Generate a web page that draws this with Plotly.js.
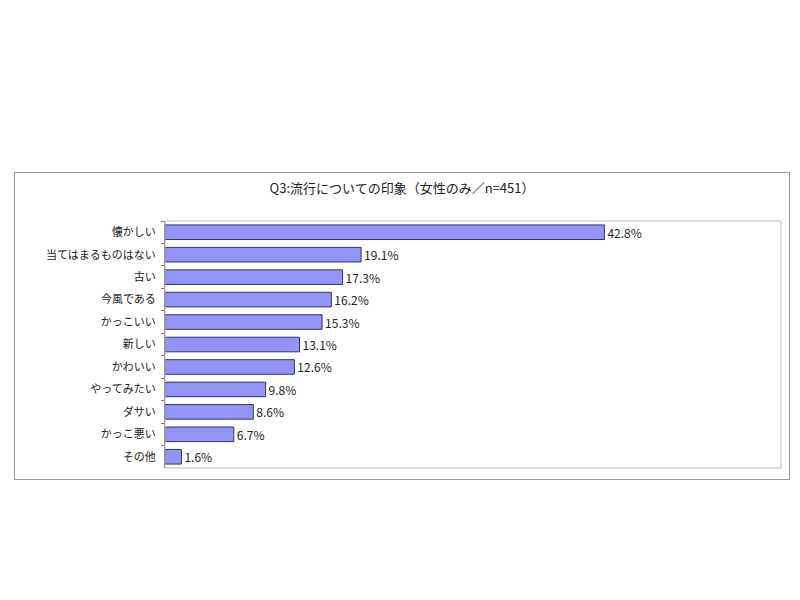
<!DOCTYPE html>
<html>
<head>
<meta charset="utf-8">
<script src="https://cdn.plot.ly/plotly-3.0.1.min.js"></script>
<style>
  body { margin: 0; background: #fff; }
  #chart {
    position: absolute; left: 14px; top: 172px;
    width: 774px; height: 306px;
    border: 1px solid #999;
  }
</style>
</head>
<body>
<div id="chart"></div>
<script>
const categories = ['懐かしい', '当てはまるものはない', '古い', '今風である', 'かっこいい',
  '新しい', 'かわいい', 'やってみたい', 'ダサい', 'かっこ悪い', 'その他'];
const percents = [42.8, 19.1, 17.3, 16.2, 15.3, 13.1, 12.6, 9.8, 8.6, 6.7, 1.6];

const data = [
  {
    x: percents,
    y: categories,
    type: 'bar',
    orientation: 'h',
    texttemplate: '%{x:.1f}%',
    textposition: 'outside',
    constraintext: 'none',
    cliponaxis: false,
    textfont: { size: 12, color: '#222' },
    marker: {
      color: '#9494F6',
      line: { color: '#333366', width: 1 },
    },
    hoverinfo: 'none',
  },
];

const layout = {
  width: 774,
  height: 306,
  margin: { t: 48, l: 150, r: 8, b: 11 },
  font: { family: '"Noto Sans CJK JP", sans-serif', color: '#222', size: 11 },
  paper_bgcolor: '#fff',
  plot_bgcolor: '#fff',
  showlegend: false,
  bargap: 0.35,
  title: {
    text: 'Q3:流行についての印象（女性のみ／n=451）',
    font: { size: 13, color: '#222' },
    x: 0.5,
    xanchor: 'center',
    y: 0.95,
    yanchor: 'middle',
  },
  xaxis: {
    range: [0, 60],
    visible: false,
    fixedrange: true,
  },
  yaxis: {
    autorange: 'reversed',
    showline: true,
    linecolor: '#777',
    linewidth: 1,
    ticks: 'outside',
    tickson: 'boundaries',
    ticklen: 3,
    tickcolor: '#777',
    ticklabelstandoff: 6,
    showgrid: false,
    zeroline: false,
    fixedrange: true,
  },
  shapes: [
    {
      type: 'rect', xref: 'paper', yref: 'paper',
      x0: 0, x1: 1, y0: 0, y1: 1,
      line: { color: '#bbb', width: 1 },
    },
  ],
};

Plotly.newPlot('chart', data, layout, { displayModeBar: false, staticPlot: true });
</script>
</body>
</html>
